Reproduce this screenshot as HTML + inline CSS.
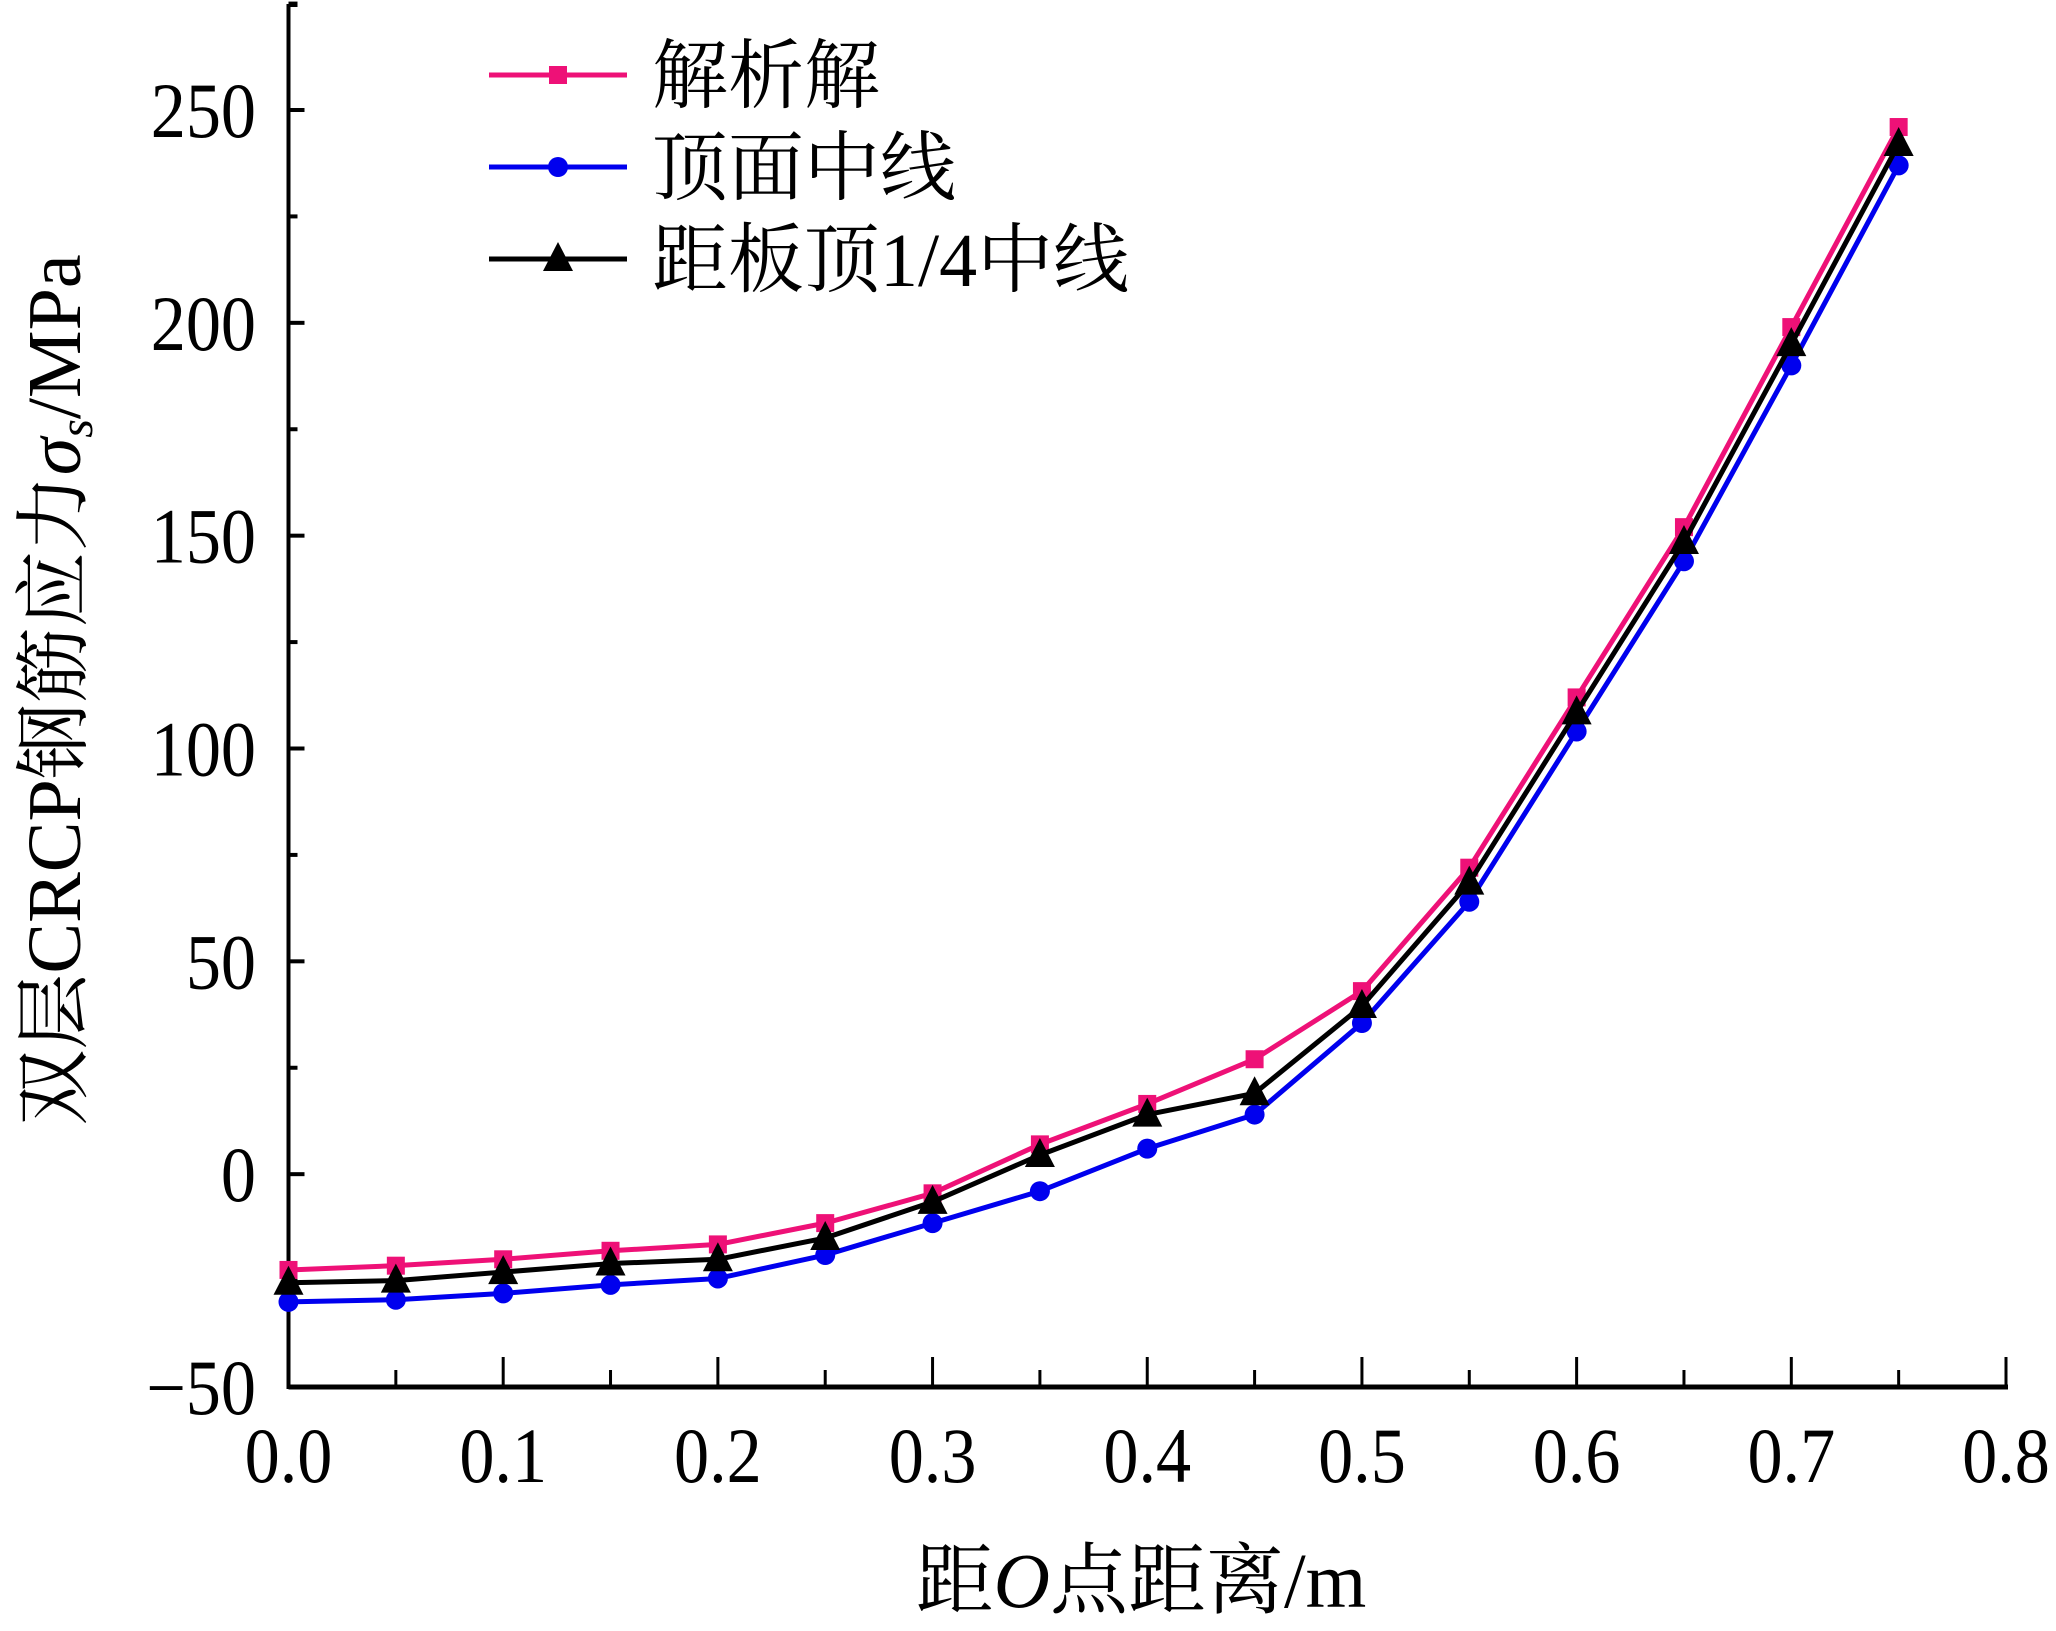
<!DOCTYPE html>
<html><head><meta charset="utf-8"><style>
html,body{margin:0;padding:0;background:#fff;}
svg{display:block;}
text{font-family:"Liberation Serif","Noto Serif CJK SC","Noto Sans CJK SC",serif;fill:#000;}
</style></head><body>
<svg id="chart" width="2056" height="1631" viewBox="0 0 2056 1631" xmlns="http://www.w3.org/2000/svg">
<g id="axes"></g>
<g id="series"></g>
<g id="legend"></g>
<text x="1141" y="1607" font-size="78" text-anchor="middle">距<tspan font-style="italic">O</tspan>点距离/m</text>
<text transform="translate(80,690) rotate(-90)" font-size="76" text-anchor="middle">双层CRCP钢筋应力<tspan font-style="italic">σ</tspan><tspan font-style="italic" font-size="48" dy="12">s</tspan><tspan dy="-12">/MPa</tspan></text>
</svg>
<script>
const xValues=[0,0.05,0.1,0.15,0.2,0.25,0.3,0.35,0.4,0.45,0.5,0.55,0.6,0.65,0.7,0.75];
const analytic=[-22.5,-21.5,-20,-18,-16.5,-11.5,-4.5,7,16.5,27,43,72,112,152,199,246];
const topMid=[-30,-29.5,-28,-26,-24.5,-19,-11.5,-4,6,14,35.5,64,104,144,190,237];
const quarterMid=[-25.5,-25,-23,-21,-20,-15,-6.5,4.5,14,19,39.5,68.5,108.5,148.5,195,242];
const xTicks=[0,0.1,0.2,0.3,0.4,0.5,0.6,0.7,0.8];
const xTickLabels=["0.0","0.1","0.2","0.3","0.4","0.5","0.6","0.7","0.8"];
const yTicks=[-50,0,50,100,150,200,250];
const yTickLabels=["\u221250","0","50","100","150","200","250"];
const seriesNames=["解析解","顶面中线","距板顶1/4中线"];

const NS="http://www.w3.org/2000/svg";
const X0=288.5,X1=2006,Y0=1387,Y1=110;
const sx=v=>X0+(v-0)/(0.8-0)*(X1-X0);
const sy=v=>Y0-(v-(-50))/(250-(-50))*(Y0-Y1);
function mk(tag,attrs,parent){const e=document.createElementNS(NS,tag);for(const k in attrs)e.setAttribute(k,attrs[k]);parent.appendChild(e);return e;}
const axes=document.getElementById('axes');
let e;
e=mk('line',{x1:X0,y1:Y0,x2:X1+2,y2:Y0,stroke:'#000','stroke-width':5},axes);


e=mk('line',{x1:X0,y1:Y0+2,x2:X0,y2:4,stroke:'#000','stroke-width':4},axes);


e=mk('line',{x1:X0,y1:5,x2:X0+9,y2:5,stroke:'#000','stroke-width':4},axes);


xTicks.forEach((v,i)=>{
  const t=mk('line',{x1:sx(v),y1:Y0,x2:sx(v),y2:Y0-30,stroke:'#000','stroke-width':3},axes);
  
  
  if(i<xTicks.length-1){const m=mk('line',{x1:sx(v+0.05),y1:Y0,x2:sx(v+0.05),y2:Y0-17,stroke:'#000','stroke-width':3},axes);
  
  }
  const l=mk('text',{transform:`translate(${sx(v)},1482) scale(0.9,1)`,'font-size':78,'text-anchor':'middle'},axes);
  l.textContent=xTickLabels[i];
  
  
});
yTicks.forEach((v,i)=>{
  const t=mk('line',{x1:X0,y1:sy(v),x2:X0+16,y2:sy(v),stroke:'#000','stroke-width':4},axes);
  
  
  if(v<300){const m=mk('line',{x1:X0,y1:sy(v+25),x2:X0+9,y2:sy(v+25),stroke:'#000','stroke-width':4},axes);
  
  }
  const l=mk('text',{transform:`translate(256,${sy(v)+27}) scale(0.9,1)`,'font-size':78,'text-anchor':'end'},axes);
  l.textContent=yTickLabels[i];
  
  
});
const sg=document.getElementById('series');
function marker(type,cx,cy,color,parent){
  let m;
  if(type==='square')m=mk('rect',{x:cx-9,y:cy-9,width:18,height:18,fill:color},parent);
  else if(type==='circle')m=mk('circle',{cx:cx,cy:cy,r:10,fill:color},parent);
  else m=mk('polygon',{points:`${cx},${cy-17} ${cx-15},${cy+12} ${cx+15},${cy+12}`,fill:color},parent);
  return m;
}
const defs=[[analytic,'#ee1177','square','analytic'],[topMid,'#0000ee','circle','top-midline'],[quarterMid,'#000000','triangle','quarter-midline']];
defs.forEach(([vals,color,mtype,name])=>{
  const g=mk('g',{},sg);
  
  
  const pts=vals.map((v,i)=>sx(xValues[i])+','+sy(v)).join(' ');
  const pl=mk('polyline',{points:pts,fill:'none',stroke:color,'stroke-width':5,'stroke-linejoin':'round'},g);
  
  
  vals.forEach((v,i)=>{
    const m=marker(mtype,sx(xValues[i]),sy(v),color,g);
    
    
  });
});
const lg=document.getElementById('legend');
defs.forEach(([vals,color,mtype,name],i)=>{
  const y=75+i*92;
  const g=mk('g',{},lg);
  
  
  mk('line',{x1:489,y1:y,x2:627,y2:y,stroke:color,'stroke-width':5},g);
  marker(mtype,558,y,color,g);
  const t=mk('text',{x:652,y:y+27,'font-size':76},g);
  t.textContent=seriesNames[i];
  
  
});
</script>
</body></html>
